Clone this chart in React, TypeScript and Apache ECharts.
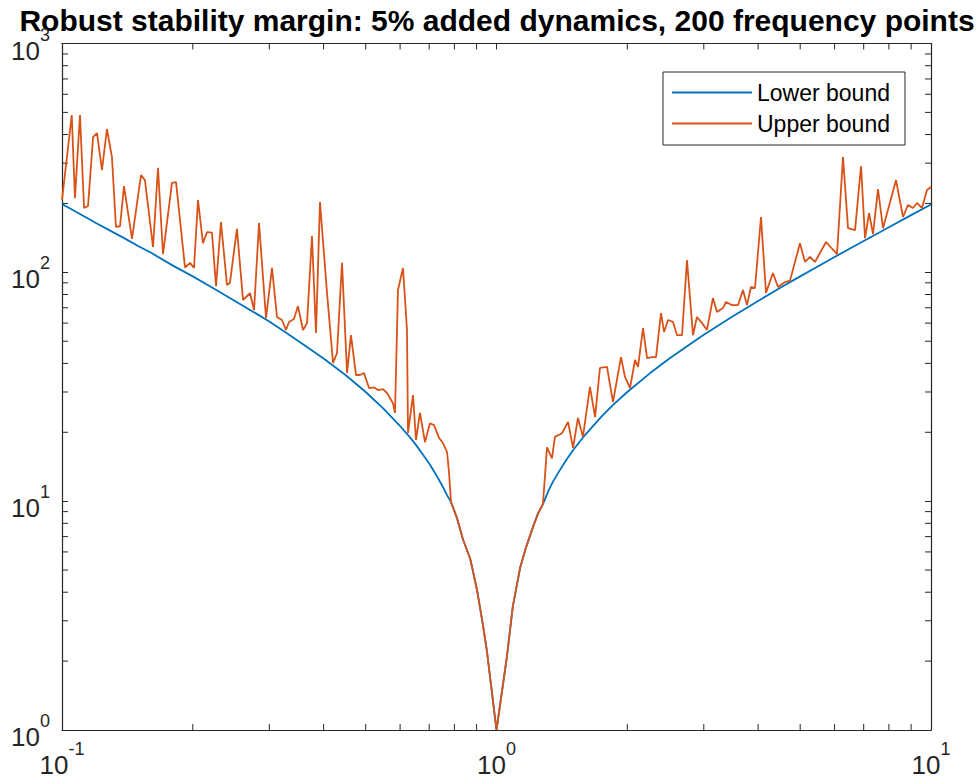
import React, { useEffect, useRef } from 'react';
import * as echarts from 'echarts';

const titleText = 'Robust stability margin: 5% added dynamics, 200 frequency points';
const seriesNames = ['Lower bound', 'Upper bound'];

const lowerFreq = [
  0.1, 0.11, 0.12, 0.13, 0.14, 0.15, 0.16, 0.18, 0.2, 0.22, 0.25, 0.28, 0.3, 0.33, 0.36, 0.4, 0.45, 0.5,
  0.55, 0.6, 0.625, 0.65, 0.675, 0.7, 0.725, 0.75, 0.77, 0.7859, 0.81, 0.8374, 0.87, 0.9018, 0.93, 0.9508, 1.0,
  1.057, 1.09, 1.133, 1.17, 1.213, 1.245, 1.279,
  1.32, 1.35, 1.4, 1.45, 1.5, 1.6, 1.75, 1.85, 2.0, 2.25, 2.5, 2.75, 3.0, 3.5, 4.0, 4.5, 5.0, 5.5, 6.0, 7.0, 8.0, 9.0, 10,
];
const lowerMag = [
  199, 180, 164, 151, 140, 130, 122, 107, 96, 86.5, 75, 66, 61, 54, 48.3, 42, 35.5, 30,
  25.3, 21.3, 19.5, 17.8, 16.1, 14.6, 13.1, 11.7, 10.6, 9.9, 8.5, 6.8, 5.6, 4.1, 2.9, 2.2, 1.0,
  2.1, 3.45, 5.1, 6.3, 7.7, 8.8, 9.7,
  11.2, 12.2, 13.7, 15.2, 16.7, 19.5, 23.6, 26.2, 30, 36.1, 42, 47.7, 53.3, 64.3, 75, 85.6, 96, 106.4, 116.7, 137, 157.5, 177.8, 198,
];

const upperFreq = [
  0.1, 0.1053, 0.1071, 0.11, 0.1124, 0.1148, 0.1179, 0.1204, 0.1236, 0.1269, 0.1303, 0.1331, 0.136, 0.1389,
  0.1449, 0.152, 0.1552, 0.162, 0.1663, 0.1708, 0.1791, 0.183, 0.1919, 0.1971, 0.2013, 0.2056, 0.2111,
  0.2157, 0.2214, 0.2262, 0.2322, 0.2397, 0.2435, 0.2527, 0.261, 0.2709, 0.2767, 0.2841, 0.2948, 0.3043,
  0.3125, 0.3208, 0.3277, 0.333, 0.3419, 0.3492, 0.3586, 0.3664, 0.3761, 0.3842, 0.3924, 0.4074, 0.4205,
  0.4295, 0.441, 0.4529, 0.4624, 0.4749, 0.4851, 0.4955, 0.5089, 0.5225, 0.5337, 0.548, 0.5598, 0.5777,
  0.5839, 0.5933, 0.6092, 0.6223, 0.6256, 0.6424, 0.6527, 0.6666, 0.6845, 0.7028, 0.718, 0.7374, 0.7534,
  0.7694, 0.7776, 0.7859, 0.81, 0.8374, 0.87, 0.9018, 0.93, 0.9508, 1.0, 1.057, 1.09, 1.133, 1.17, 1.213, 1.245, 1.279,
  1.307, 1.342, 1.363, 1.415, 1.461, 1.5, 1.54, 1.581, 1.641, 1.686, 1.73, 1.796, 1.854, 1.934, 1.976,
  2.029, 2.084, 2.117, 2.174, 2.221, 2.28, 2.329, 2.391, 2.43, 2.482, 2.548, 2.602, 2.673, 2.744, 2.833,
  2.893, 2.972, 3.051, 3.149, 3.217, 3.321, 3.375, 3.483, 3.596, 3.692, 3.771, 3.852, 3.935, 4.062, 4.171,
  4.328, 4.444, 4.613, 4.737, 4.994, 5.129, 5.267, 5.408, 5.733, 6.077, 6.273, 6.442, 6.686, 6.902, 7.05,
  7.201, 7.355, 7.551, 7.754, 8.308, 8.622, 8.851, 9.091, 9.286, 9.535, 9.79, 10,
];
const upperMag = [
  207, 487, 211, 487, 191, 195, 390, 406, 280, 423, 319, 158, 159, 238,
  140, 266, 253, 129, 286, 120, 246, 248, 105, 110, 104.5, 207, 134,
  150, 149, 87, 166, 88, 90, 155, 75.7, 81, 68.4, 164, 63, 104.5,
  63.8, 61.9, 56, 60.7, 62.5, 71.2, 56, 60, 144, 54.3, 203, 81, 40.2,
  44.4, 110, 36.3, 53.2, 35.6, 35.6, 36.3, 31.2, 31.4, 30.6, 30.9, 29.7, 26.8,
  24.3, 83.7, 104.5, 56, 19.9, 29.1, 18.5, 24.3, 18.1, 21.9, 21.5, 18.9, 17.9,
  16.4, 13.3, 9.9, 8.5, 6.8, 5.6, 4.1, 2.9, 2.2, 1.0, 2.1, 3.45, 5.1, 6.3, 7.7, 8.8, 9.7,
  17.2, 15.4, 19.1, 19.8, 22.2, 17.1, 23.1, 19.1, 31.6, 23.3, 38.2, 38.6, 27.1, 42.6, 34.9,
  31.2, 41.4, 38.6, 57.1, 42.2, 42.6, 42.6, 66.4, 54.9, 61.9, 60.7, 53.2, 53.2, 113, 53.2,
  63.8, 60, 56, 77.2, 67.1, 69.8, 74.2, 71.9, 71.9, 83.7, 71.9, 86.3, 85.4, 174.5, 81.3,
  99.3, 86.3, 90.7, 92, 134, 111, 116.7, 111, 135.7, 120, 319, 156, 153, 291, 141,
  181.6, 147, 231, 156, 253, 174.5, 197, 191, 201, 191, 229, 236,
];

const xMinorTicks = [0.2, 0.3, 0.4, 0.5, 0.6, 0.7, 0.8, 0.9, 2, 3, 4, 5, 6, 7, 8, 9];
const yMinorTicks = [2, 3, 4, 5, 6, 7, 8, 9, 20, 30, 40, 50, 60, 70, 80, 90, 200, 300, 400, 500, 600, 700, 800, 900];

const X_MIN = 0.1;
const X_MAX = 10;
const Y_MIN = 1;
const Y_MAX = 1000;

export default function App() {
  const ref = useRef<HTMLDivElement>(null);

  useEffect(() => {
    document.body.style.margin = '0';
    const chart = echarts.init(ref.current as HTMLDivElement, null, { renderer: 'svg' });
    const font = "'Liberation Sans', Arial, Helvetica, sans-serif";
    const axisColor = '#262626';
    const tickLen = 6;

    const fmt = (v: number) => `{b|10}{s|${Math.round(Math.log10(v))}}`;
    const rich = {
      b: { fontSize: 26, lineHeight: 38, verticalAlign: 'bottom', fontFamily: font, color: axisColor },
      s: { fontSize: 18, lineHeight: 16, verticalAlign: 'top', fontFamily: font, color: axisColor },
    };

    const axisLine = { show: true, onZero: false, lineStyle: { color: axisColor, width: 1.2 } };
    const axisTick = { show: true, inside: true, length: tickLen, lineStyle: { color: axisColor, width: 1 } };

    const baseX = { type: 'log', logBase: 10, min: X_MIN, max: X_MAX, splitLine: { show: false }, axisLine, axisTick };
    const baseY = { type: 'log', logBase: 10, min: Y_MIN, max: Y_MAX, splitLine: { show: false }, axisLine, axisTick };

    const tickLine = (x1: number, y1: number, x2: number, y2: number) => ({
      type: 'line',
      shape: { x1, y1, x2, y2 },
      style: { stroke: axisColor, lineWidth: 1 },
    });

    const option: any = {
      animation: false,
      backgroundColor: '#ffffff',
      textStyle: { fontFamily: font },
      grid: { left: 62, right: 45, top: 43.5, bottom: 50, containLabel: false, outerBoundsMode: 'none' },
      graphic: [
        {
          type: 'text',
          x: 497,
          y: 20,
          style: {
            text: titleText,
            fontFamily: font,
            fontSize: 30,
            fontWeight: 'bold',
            fill: '#000000',
            align: 'center',
            verticalAlign: 'middle',
          },
        },
      ],
      legend: {
        data: seriesNames.map((n) => ({ name: n, icon: 'rect' })),
        orient: 'vertical',
        left: 663,
        top: 72,
        itemWidth: 80,
        itemHeight: 2,
        itemGap: 8,
        padding: [9, 15, 10, 9],
        borderColor: axisColor,
        borderWidth: 1,
        backgroundColor: '#ffffff',
        textStyle: { fontFamily: font, fontSize: 23, lineHeight: 23, color: '#000000' },
      },
      xAxis: [
        { ...baseX, position: 'bottom', axisLabel: { show: true, margin: 10, formatter: fmt, rich } },
        { ...baseX, position: 'top', axisLabel: { show: false } },
      ],
      yAxis: [
        { ...baseY, position: 'left', axisLabel: { show: true, margin: 12, padding: [2, 0, 0, 0], formatter: fmt, rich } },
        { ...baseY, position: 'right', axisLabel: { show: false } },
      ],
      series: [
        {
          name: seriesNames[0],
          type: 'line',
          xAxisIndex: 0,
          yAxisIndex: 0,
          symbol: 'none',
          showSymbol: false,
          lineStyle: { color: '#0072BD', width: 1.8 },
          itemStyle: { color: '#0072BD' },
          data: lowerFreq.map((f, i) => [f, lowerMag[i]]),
        },
        {
          name: seriesNames[1],
          type: 'line',
          xAxisIndex: 0,
          yAxisIndex: 0,
          symbol: 'none',
          showSymbol: false,
          lineStyle: { color: '#D95319', width: 1.8 },
          itemStyle: { color: '#D95319' },
          data: upperFreq.map((f, i) => [f, upperMag[i]]),
        },
        {
          type: 'custom',
          xAxisIndex: 0,
          yAxisIndex: 0,
          silent: true,
          clip: false,
          data: xMinorTicks.map((v) => [v, Y_MIN]),
          renderItem: (_p: any, api: any) => {
            const v = api.value(0);
            const b = api.coord([v, Y_MIN]);
            const t = api.coord([v, Y_MAX]);
            return {
              type: 'group',
              children: [tickLine(b[0], b[1], b[0], b[1] - tickLen), tickLine(t[0], t[1], t[0], t[1] + tickLen)],
            };
          },
        },
        {
          type: 'custom',
          xAxisIndex: 0,
          yAxisIndex: 0,
          silent: true,
          clip: false,
          data: yMinorTicks.map((v) => [X_MIN, v]),
          renderItem: (_p: any, api: any) => {
            const v = api.value(1);
            const l = api.coord([X_MIN, v]);
            const r = api.coord([X_MAX, v]);
            return {
              type: 'group',
              children: [tickLine(l[0], l[1], l[0] + tickLen, l[1]), tickLine(r[0], r[1], r[0] - tickLen, r[1])],
            };
          },
        },
      ],
    };

    chart.setOption(option);
    return () => {
      chart.dispose();
    };
  }, []);

  return <div ref={ref} style={{ width: 976, height: 780 }} />;
}
